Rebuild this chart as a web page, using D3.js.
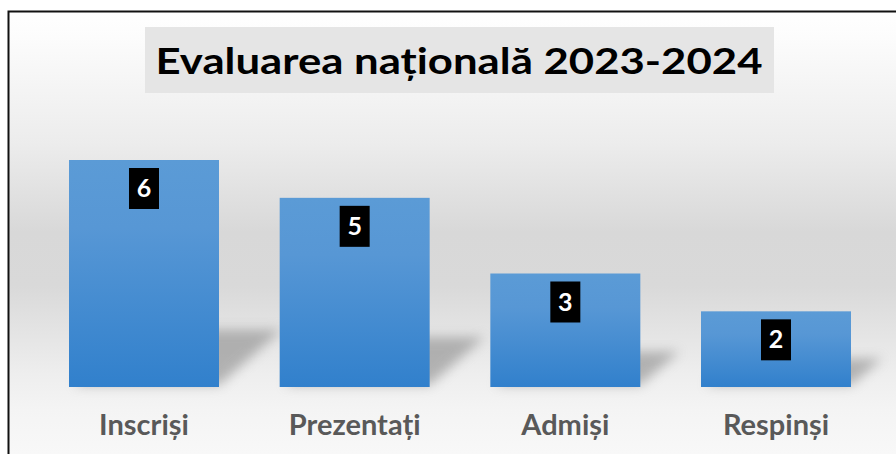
<!DOCTYPE html>
<html><head><meta charset="utf-8">
<script src="https://cdn.jsdelivr.net/npm/d3@7"></script>
<style>html,body{margin:0;padding:0;background:#fff;overflow:hidden}</style>
</head><body>
<svg id="c" width="896" height="454"></svg>
<script>
const title = "Evaluarea națională 2023-2024";
const categories = ["Inscriși", "Prezentați", "Admiși", "Respinși"];
const values = [6, 5, 3, 2];

const svg = d3.select("#c");
const W = 896, H = 454;
const defs = svg.append("defs");

const bg = defs.append("linearGradient").attr("id","bg").attr("x1",0).attr("y1",0).attr("x2",0).attr("y2",1);
[[0,"#ffffff"],[0.06,"#fcfcfc"],[0.3,"#ececec"],[0.5,"#d8d8d8"],[0.62,"#d9d9d9"],[0.82,"#eeeeee"],[0.9,"#f4f4f4"],[1,"#f8f8f8"]]
  .forEach(([o,c]) => bg.append("stop").attr("offset",o).attr("stop-color",c));

const bar = defs.append("linearGradient").attr("id","bar").attr("x1",0).attr("y1",0).attr("x2",0).attr("y2",1);
[[0,"#5b9bd6"],[0.3,"#5797d5"],[1,"#3180cc"]].forEach(([o,c]) => bar.append("stop").attr("offset",o).attr("stop-color",c));

defs.append("filter").attr("id","blur").attr("x","-50%").attr("y","-50%").attr("width","200%").attr("height","200%")
  .append("feGaussianBlur").attr("stdDeviation",6);

// background
svg.append("rect").attr("x",8).attr("y",11).attr("width",W-8).attr("height",H-11).attr("fill","url(#bg)");
svg.append("path").attr("d",`M8.5,${H} V11.5 H${W}`).attr("fill","none").attr("stroke","#111").attr("stroke-width",2);

// title
svg.append("rect").attr("x",145).attr("y",27).attr("width",629).attr("height",66).attr("fill","#e5e5e5");
svg.append("text").attr("x",459).attr("y",74).attr("text-anchor","middle")
  .attr("font-family","Lato, 'Liberation Sans', sans-serif").attr("font-weight","bold").attr("font-size",37)
  .attr("fill","#000").attr("textLength",607).attr("lengthAdjust","spacingAndGlyphs").text(title);

// scales
const xs = d3.scaleBand().domain(categories).range([69, 851]).paddingInner(0.288).paddingOuter(0);
const y = d3.scaleLinear().domain([0, 6]).range([387, 160]);

// shadows
const g = svg.append("g");
categories.forEach((c,i) => {
  const x0 = xs(c), x1 = x0 + xs.bandwidth(), base = y(0);
  const h = base - y(values[i]);
  const sh = 14 + 0.19*h, dx = sh*1.1;
  g.append("path")
    .attr("d",`M${x0+5},${base-2} L${x1},${base-2} L${x1+dx},${base-sh} L${x0+dx},${base-sh} Z`)
    .attr("fill","#8a8a8a").attr("opacity",0.6).attr("filter","url(#blur)");
});

// bars
svg.append("g").selectAll("rect").data(values).join("rect")
  .attr("x",(d,i)=>xs(categories[i])).attr("width",xs.bandwidth())
  .attr("y",d=>y(d)).attr("height",d=>y(0)-y(d)).attr("fill","url(#bar)");

// data labels
const lab = svg.append("g");
values.forEach((d,i) => {
  const cx = xs(categories[i]) + xs.bandwidth()/2;
  lab.append("rect").attr("x",cx-15).attr("y",y(d)+8).attr("width",30).attr("height",41).attr("fill","#000");
  lab.append("text").attr("x",cx).attr("y",y(d)+37).attr("text-anchor","middle")
    .attr("font-family","Lato, 'Liberation Sans', sans-serif").attr("font-weight","bold").attr("font-size",25)
    .attr("fill","#fff").text(d);
});

// category axis
const axis = d3.axisBottom(xs).tickSize(0).tickPadding(0);
const ag = svg.append("g").attr("transform",`translate(0,${y(0)})`).call(axis);
ag.select(".domain").remove();
ag.selectAll("text").attr("dy",0).attr("y",48)
  .attr("font-family","Lato, 'Liberation Sans', sans-serif").attr("font-weight","bold").attr("font-size",29)
  .attr("fill","#595959");
</script>
</body></html>
